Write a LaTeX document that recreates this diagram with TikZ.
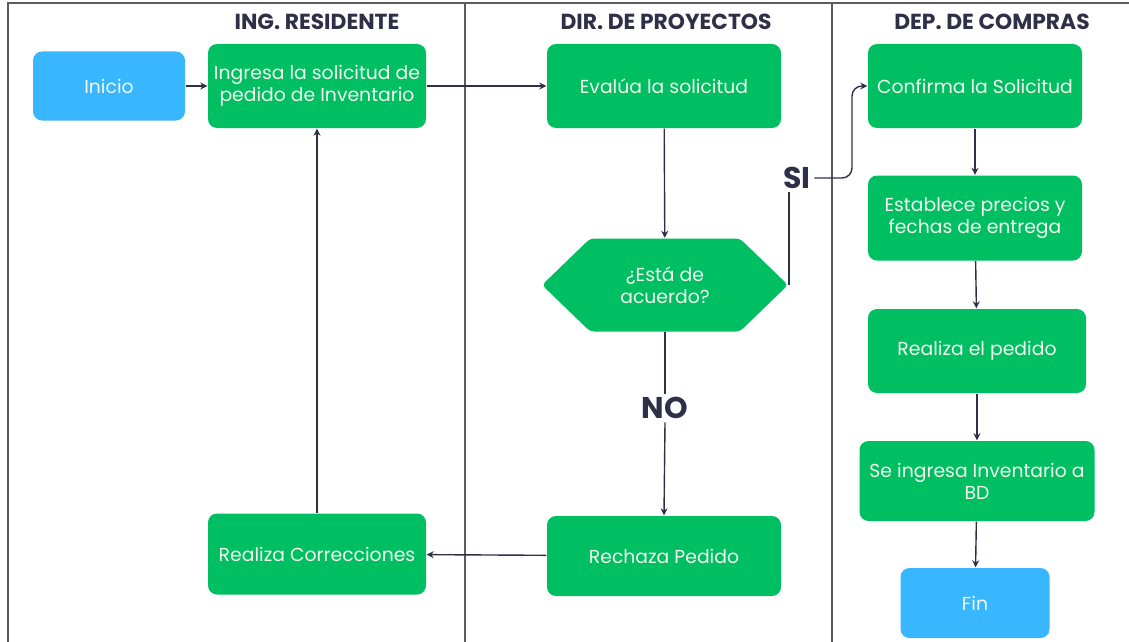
\documentclass[tikz,border=0pt]{standalone}
\usepackage{fontspec}
\setmainfont{Poppins}
\usetikzlibrary{arrows.meta,shapes.symbols}

\definecolor{verde}{HTML}{00BF63}
\definecolor{celeste}{HTML}{38B6FF}
\definecolor{tinta}{HTML}{2E3048}
\definecolor{marco}{HTML}{5C5C5C}
\definecolor{crema}{HTML}{F2F8EC}

\tikzset{
	paso/.style={rectangle, rounded corners=9pt, fill=verde, text=crema, align=center,
		inner sep=2pt, font=\fontsize{18.8}{22}\selectfont},
	extremo/.style={paso, fill=celeste},
	decision/.style={signal, signal to=east and west, signal pointer angle=88,
		rounded corners=4pt, fill=verde, text=crema, align=center, inner sep=2pt,
		minimum width=246pt, minimum height=93pt, font=\fontsize{18.8}{22}\selectfont},
	carril/.style={draw=marco, line width=1.1pt},
	titulo/.style={text=tinta, font=\bfseries\fontsize{21.8}{24}\selectfont},
	rotulo/.style={text=tinta, inner sep=3pt, font=\bfseries\fontsize{30}{34}\selectfont},
}

\begin{document}
\begin{tikzpicture}[x=1pt, y=-1pt, line width=1.4pt, draw=tinta,
	arrows={-Stealth[length=7pt,width=7pt]}]
	\useasboundingbox (0,0) rectangle (1129,642);

	% carriles
	\draw[carril, -] (8,642) -- (8,3) -- (1129,3);
	\draw[carril, -] (465,3) -- (465,642);
	\draw[carril, -] (832,3) -- (832,642);
	\node[titulo] (T1) at (317,22) {ING. RESIDENTE};
	\node[titulo] (T2) at (666,22) {DIR. DE PROYECTOS};
	\node[titulo] (T3) at (992,22) {DEP. DE COMPRAS};

	% nodos
	\node[extremo, minimum width=152pt, minimum height=69pt] (inicio) at (109,86) {Inicio};
	\node[paso, minimum width=218pt, minimum height=84pt] (ingresa) at (317,86) {Ingresa la solicitud de\\pedido de Inventario};
	\node[paso, minimum width=234pt, minimum height=84pt] (evalua) at (664,86) {Evalúa la solicitud};
	\node[decision] (acuerdo) at (665,285) {¿Está de\\acuerdo?};
	\node[paso, minimum width=234pt, minimum height=80pt] (rechaza) at (664,556) {Rechaza Pedido};
	\node[paso, minimum width=218pt, minimum height=81pt] (correcciones) at (317,554) {Realiza Correcciones};
	\node[paso, minimum width=214pt, minimum height=84pt] (confirma) at (975,86) {Confirma la Solicitud};
	\node[paso, minimum width=214pt, minimum height=85pt] (precios) at (975,218) {Establece precios y\\fechas de entrega};
	\node[paso, minimum width=218pt, minimum height=84pt] (pedido) at (977,351) {Realiza el pedido};
	\node[paso, minimum width=235pt, minimum height=80pt] (bd) at (977,481) {Se ingresa Inventario a\\BD};
	\node[extremo, minimum width=149pt, minimum height=70pt] (fin) at (975,603) {Fin};
	\node[rotulo] (si) at (797,178) {SI};
	\node[rotulo] (no) at (665,408) {NO};
	\coordinate (codo) at (852,130);

	% conectores
	\draw (inicio) -- (ingresa);
	\draw (ingresa) -- (evalua);
	\draw (evalua) -- (acuerdo);
	\draw[-] (acuerdo.east) -- (acuerdo.east |- si.south);
	\draw[rounded corners=10pt] (si.east) -| (codo) |- (confirma.west);
	\draw[-] (acuerdo.south) -- (no.north);
	\draw (no.south) -- (rechaza.north);
	\draw (rechaza) -- (correcciones);
	\draw (correcciones) -- (ingresa);
	\draw (confirma) -- (precios);
	\draw (precios) -- (pedido);
	\draw (pedido) -- (bd);
	\draw (bd) -- (fin);
\end{tikzpicture}
\end{document}
